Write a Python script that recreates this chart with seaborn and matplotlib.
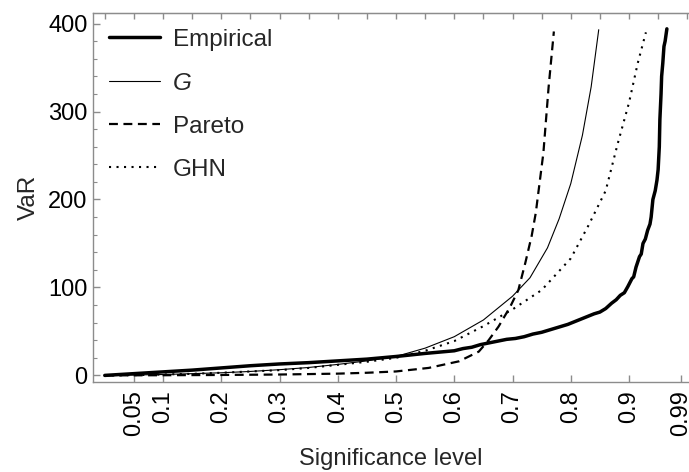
import matplotlib
matplotlib.use("Agg")
import matplotlib.pyplot as plt
import seaborn as sns
import pandas as pd
from matplotlib.ticker import FixedLocator, MultipleLocator

# ---- data ----
emp_x = [0.0, 0.05, 0.1, 0.15, 0.2, 0.25, 0.3, 0.35, 0.4, 0.45, 0.5, 0.55, 0.6, 0.615,
         0.63, 0.645, 0.66, 0.675, 0.69, 0.705, 0.72, 0.735, 0.75, 0.765, 0.78, 0.795,
         0.81, 0.825, 0.84, 0.85, 0.86, 0.87, 0.878, 0.885, 0.892, 0.898, 0.905, 0.908,
         0.912, 0.918, 0.921, 0.924, 0.928, 0.932, 0.936, 0.938, 0.941, 0.945, 0.948,
         0.950, 0.952, 0.953, 0.955, 0.956, 0.958, 0.960, 0.962, 0.965]
emp_y = [0, 2, 4, 6, 8.5, 11, 13, 14.5, 16.5, 18.5, 21.5, 25, 28, 30.5,
         32, 35, 37, 39, 41, 42, 44, 47, 49, 52, 55, 58,
         62, 66, 70, 72, 76, 82, 86, 91, 94, 101, 110, 112,
         123, 135, 138, 150, 155, 165, 172, 180, 200, 210, 222,
         234, 260, 291, 320, 340, 355, 374, 380, 394]

g_x = [0.0, 0.05, 0.1, 0.15, 0.2, 0.25, 0.3, 0.35, 0.4, 0.45, 0.5, 0.55, 0.6, 0.65,
       0.7, 0.73, 0.76, 0.78, 0.8, 0.82, 0.835, 0.848]
g_y = [0, 0.5, 1, 2, 3, 4.5, 6.5, 9, 12.5, 16.5, 21.5, 31, 44, 63,
       90, 111, 145, 178, 218, 273, 328, 393]

par_x = [0.0, 0.1, 0.2, 0.3, 0.4, 0.45, 0.5, 0.556, 0.608, 0.642, 0.659, 0.676,
         0.696, 0.71, 0.722, 0.733, 0.74, 0.753, 0.762, 0.771]
par_y = [0, 0.2, 0.5, 1, 2, 3, 4.5, 8.5, 16, 27, 40, 55.5,
         78, 97, 128, 159, 185, 253, 328, 391]

ghn_x = [0.0, 0.05, 0.1, 0.15, 0.2, 0.25, 0.3, 0.35, 0.4, 0.45, 0.5, 0.55, 0.6, 0.65,
         0.7, 0.75, 0.8, 0.83, 0.86, 0.88, 0.9, 0.915, 0.929]
ghn_y = [0, 0.3, 1, 1.8, 3, 4.5, 6, 8.5, 12, 15.5, 20, 28, 39, 56,
         75, 97, 133, 170, 210, 262, 310, 355, 390]

xtick_vals = [0.05, 0.1, 0.2, 0.3, 0.4, 0.5, 0.6, 0.7, 0.8, 0.9, 0.99]
xtick_labels = ["0.05", "0.1", "0.2", "0.3", "0.4", "0.5", "0.6", "0.7", "0.8", "0.9", "0.99"]
ytick_vals = [0, 100, 200, 300, 400]

sns.set_style("ticks")
plt.rcParams["font.family"] = ["Liberation Sans", "DejaVu Sans"]

fig = plt.figure(figsize=(6.89, 4.72), dpi=100)
ax = fig.add_axes([93 / 689, 1 - 382 / 472, (690 - 93) / 689, (382 - 13) / 472])

series = [
    ("Empirical", emp_x, emp_y, dict(lw=2.5, linestyle="-")),
    ("G", g_x, g_y, dict(lw=0.8, linestyle="-")),
    ("Pareto", par_x, par_y, dict(lw=1.6, linestyle=(0, (4, 2.5)))),
    ("GHN", ghn_x, ghn_y, dict(lw=1.5, linestyle=(0, (1, 2.6)))),
]
for name, xs, ys, st in series:
    df = pd.DataFrame({"x": xs, "y": ys})
    sns.lineplot(data=df, x="x", y="y", ax=ax, color="black", label=name,
                 sort=False, estimator=None, **st)

ax.set_xlim(-0.0202, 1.0047)
ax.set_ylim(-7.5, 412)

spine_col = "#8c8c8c"
for s in ["left", "bottom", "top"]:
    ax.spines[s].set_color(spine_col)
    ax.spines[s].set_linewidth(1.0)
ax.spines["right"].set_visible(False)

ax.xaxis.set_major_locator(FixedLocator(xtick_vals))
ax.set_xticklabels(xtick_labels, rotation=90, va="top", ha="center")
ax.yaxis.set_major_locator(FixedLocator(ytick_vals))
ax.yaxis.set_minor_locator(MultipleLocator(20))

ax.tick_params(axis="both", which="major", direction="in", length=5, width=1.0,
               color=spine_col, labelsize=17, labelcolor="black")
ax.tick_params(axis="y", which="minor", direction="in", length=3, width=0.8, color=spine_col)
ax.tick_params(axis="x", which="major", pad=6)
ax.tick_params(axis="y", which="major", pad=4)

# top frame ticks
sec = ax.secondary_xaxis("top")
sec.set_xticks([i * 0.05 for i in range(0, 21)])
sec.set_xticklabels([])
sec.tick_params(direction="in", length=4, width=1.0, color=spine_col)
sec.spines["top"].set_color(spine_col)

ax.set_xlabel("")
fig.text((93 + 689) / 2 / 689, 1 - 465 / 472, "Significance level", fontsize=17,
         ha="center", va="baseline")
ax.set_ylabel("VaR", fontsize=17.5, labelpad=6)

leg = ax.legend(loc="upper left", frameon=False, fontsize=17.5, handlelength=2.1,
                handletextpad=0.55, labelspacing=0.86, borderaxespad=0.25,
                bbox_to_anchor=(0.0, 1.0))
leg.get_texts()[1].set_fontstyle("italic")

fig.savefig("out.png", dpi=100)
